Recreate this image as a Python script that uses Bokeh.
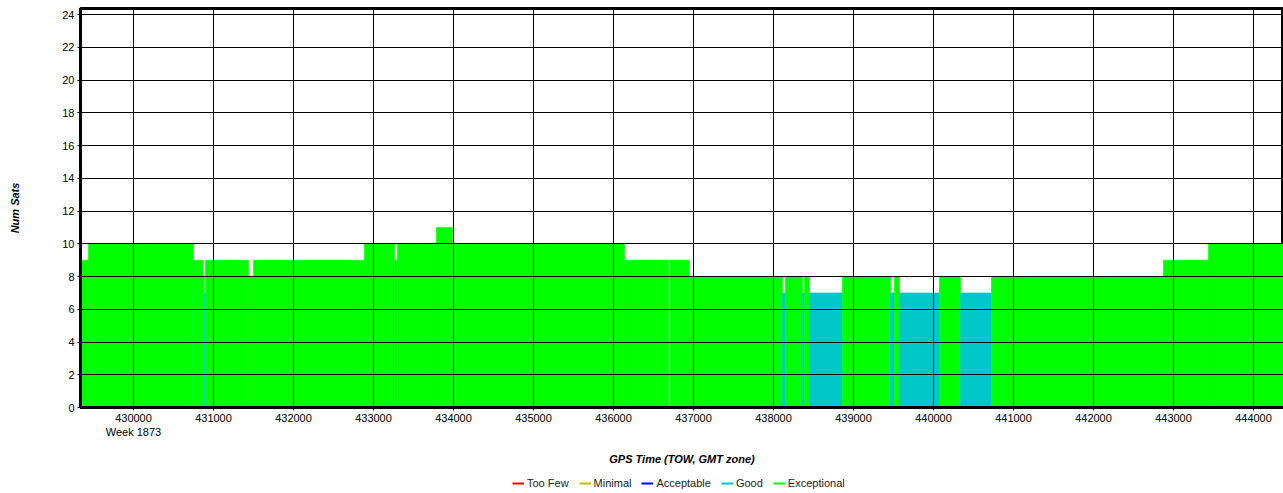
from bokeh.plotting import figure
from bokeh.layouts import column
from bokeh.models import (Range1d, Legend, LegendItem, FixedTicker, ColumnDataSource,
                          BasicTickFormatter)
from bokeh.embed import file_html
from bokeh.resources import INLINE

# ---- data (GPS time of week segments, satellites in view, quality) ----
seg_start = [429337.5, 429437.5, 430750, 430870, 430885, 430900, 431437.5, 431500,
             432887.5, 433262.5, 433300, 433787.5, 433987.5, 436137.5, 436705,
             436950, 438112.5, 438150, 438362.5, 438387.5, 438450, 438862.5,
             439462.5, 439512.5, 439575, 440075, 440337.5, 440725, 442875, 443437.5]
seg_end = [429437.5, 430750, 430870, 430885, 430900, 431437.5, 431500, 432887.5,
           433262.5, 433300, 433787.5, 433987.5, 436137.5, 436690, 436950,
           438112.5, 438150, 438362.5, 438387.5, 438450, 438862.5, 439462.5,
           439512.5, 439575, 440075, 440337.5, 440725, 442875, 443437.5, 444375]
num_sats = [9, 10, 9, 8, 7, 9, 8, 9,
            10, 9, 10, 11, 10, 9, 9,
            8, 7, 8, 7, 8, 7, 8,
            7, 8, 7, 8, 7, 8, 9, 10]
quality = ["Exceptional", "Exceptional", "Exceptional", "Exceptional", "Good", "Exceptional",
           "Exceptional", "Exceptional", "Exceptional", "Exceptional", "Exceptional",
           "Exceptional", "Exceptional", "Exceptional", "Exceptional", "Exceptional",
           "Good", "Exceptional", "Good", "Exceptional", "Good", "Exceptional",
           "Good", "Exceptional", "Good", "Exceptional", "Good", "Exceptional",
           "Exceptional", "Exceptional"]

quality_levels = ["Too Few", "Minimal", "Acceptable", "Good", "Exceptional"]
quality_colors = ["#ff0000", "#c0c000", "#0000ff", "#00c8c8", "#00ff00"]

x_ticks = list(range(430000, 444001, 1000))
y_ticks = list(range(0, 25, 2))
week_tick = 430000
week_label = "Week 1873"

x_title = "GPS Time (TOW, GMT zone)"
y_title = "Num Sats"

FONT = "Liberation Sans"

color_of = dict(zip(quality_levels, quality_colors))
src = ColumnDataSource(dict(
    left=seg_start, right=seg_end, top=num_sats,
    bottom=[0] * len(num_sats),
    color=[color_of[q] for q in quality],
))

p = figure(width=1283, height=472, output_backend="svg", toolbar_location=None,
           x_range=Range1d(429337.5, 444375), y_range=Range1d(0, 24.37),
           min_border_left=80, min_border_right=0, min_border_top=8,
           min_border_bottom=65, background_fill_color="white",
           border_fill_color="white")

p.quad(left="left", right="right", top="top", bottom="bottom", source=src,
       fill_color="color", line_color="color", line_width=0.6)

# axes
for ax in (p.xaxis[0], p.yaxis[0]):
    ax.axis_line_color = "black"
    ax.axis_line_width = 3
    ax.major_tick_line_color = "black"
    ax.major_tick_in = 0
    ax.major_tick_out = 3
    ax.minor_tick_line_color = None
    ax.major_label_text_font = FONT
    ax.major_label_text_font_size = "11px"
    ax.major_label_text_color = "black"
    ax.axis_label_text_font = FONT
    ax.axis_label_text_font_size = "11px"
    ax.axis_label_text_font_style = "bold italic"
    ax.axis_label_text_color = "black"

p.xaxis.ticker = FixedTicker(ticks=x_ticks)
p.yaxis.ticker = FixedTicker(ticks=y_ticks)
p.xaxis.formatter = BasicTickFormatter(use_scientific=False)
p.xaxis.major_label_overrides = {week_tick: f"{week_tick}\n{week_label}"}
p.xaxis.major_label_standoff = 1
p.yaxis.major_label_standoff = 3
p.xaxis.axis_label = x_title
p.yaxis.axis_label = y_title
p.xaxis.axis_label_standoff = 12
p.yaxis.axis_label_standoff = 38

for g in (p.xgrid[0], p.ygrid[0]):
    g.grid_line_color = "black"
    g.grid_line_width = 1
    g.grid_line_alpha = 1
    g.level = "overlay"
p.xgrid.ticker = FixedTicker(ticks=x_ticks)
p.ygrid.ticker = FixedTicker(ticks=y_ticks)

p.outline_line_color = "black"
p.outline_line_width = 3

# ---- legend strip below the chart ----
leg = figure(width=1283, height=21, output_backend="svg", toolbar_location=None,
             x_range=Range1d(0, 1), y_range=Range1d(0, 1),
             x_axis_type=None, y_axis_type=None,
             min_border_left=0, min_border_right=0, min_border_top=0,
             min_border_bottom=0, outline_line_color=None,
             background_fill_color="white", border_fill_color="white")
leg.xgrid.visible = False
leg.ygrid.visible = False
items = []
for name, col in zip(quality_levels, quality_colors):
    r = leg.line(x=[-1, -2], y=[-1, -2], line_color=col, line_width=2)
    items.append(LegendItem(label=name, renderers=[r]))
legend = Legend(items=items, orientation="horizontal", location=(432, 4),
                glyph_width=12, glyph_height=12, label_standoff=3, spacing=10,
                padding=0, margin=0, border_line_color=None,
                background_fill_alpha=0, label_text_font=FONT,
                label_text_font_size="11px", label_text_color="#222222",
                label_height=12)
leg.add_layout(legend, "center")

layout = column(p, leg, spacing=0)
open("out.html", "w").write(file_html(layout, INLINE))
